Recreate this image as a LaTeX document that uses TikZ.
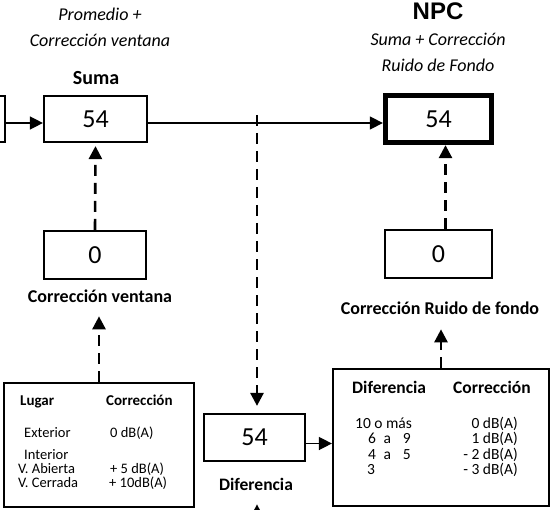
\documentclass[tikz,border=0pt]{standalone}
\usepackage{fontspec}
\setmainfont{Carlito}
\newfontfamily\npcfont{Liberation Sans}
\usetikzlibrary{arrows.meta}
\begin{document}
\begin{tikzpicture}[x=1pt,y=-1pt,
    box/.style={draw, line width=2.2pt, inner sep=0pt, font=\fontsize{26}{30}\selectfont},
    lbl/.style={inner sep=0pt, anchor=base, font=\fontsize{18}{20}\selectfont\bfseries},
    note/.style={inner sep=0pt, anchor=base, font=\fontsize{18}{20}\selectfont\itshape},
    cell/.style={inner sep=0pt, anchor=base west, font=\fontsize{14.5}{15}\selectfont},
    row/.style={inner sep=0pt, anchor=base west, font=\fontsize{15.5}{16}\selectfont},
    tip/.style={-{Triangle[length=13pt,width=13pt]}},
    dashline/.style={tip, line width=2.6pt, dash pattern=on 11pt off 7pt},
    solidline/.style={tip, line width=1.4pt}]
      \useasboundingbox (0,0) rectangle (553,510);
      \clip (0,0) rectangle (553,510);

      % titulos
      \node[note] (prom) at (100,21) {Promedio +};
      \node[note] (promb) at (100,47) {Corrección ventana};
      \node[inner sep=0pt, anchor=base, font=\fontsize{24}{26}\selectfont\npcfont\bfseries] (npct) at (438,20) {NPC};
      \node[note] (npca) at (438,46) {Suma + Corrección};
      \node[note] (npcb) at (438,72) {Ruido de Fondo};
      \node[lbl, font=\fontsize{20}{22}\selectfont\bfseries] (sumalbl) at (96,85) {Suma};

      % cajas
      \node[box, minimum width=90pt, minimum height=46pt] (prev) at (-40,119) {};
      \node[box, minimum width=103pt, minimum height=46pt] (suma) at (95.5,119) {54};
      \node[box, line width=4.8pt, minimum width=106.5pt, minimum height=47.5pt] (npc) at (438.5,119) {54};
      \node[box, minimum width=102pt, minimum height=48pt] (vent) at (95,255) {0};
      \node[box, minimum width=107pt, minimum height=48pt] (ruido) at (438.5,254) {0};
      \node[box, minimum width=101pt, minimum height=47pt] (dif) at (254.5,437.5) {54};
      \node[box, minimum width=190pt, minimum height=124pt] (lugar) at (99,445) {};
      \node[box, minimum width=216pt, minimum height=137pt] (diftab) at (441,437.5) {};

      \node[lbl] (ventlbl) at (100,302) {Corrección ventana};
      \node[lbl] (ruidolbl) at (440,314) {Corrección Ruido de fondo};
      \node[lbl, font=\fontsize{17.5}{19}\selectfont\bfseries] (diflbl) at (256,490) {Diferencia};

      % tabla ventana
      \node[cell, font=\fontsize{15}{16}\selectfont\bfseries] (lug) at (20,405) {Lugar};
      \node[cell, font=\fontsize{15}{16}\selectfont\bfseries] (corr) at (106,405) {Corrección};
      \node[cell] (ext) at (24,437) {Exterior};
      \node[cell] (extv) at (110,437) {0 dB(A)};
      \node[cell] (inte) at (24,459) {Interior};
      \node[cell] (abi) at (18,473) {V. Abierta};
      \node[cell] (abiv) at (110,473) {+ 5 dB(A)};
      \node[cell] (cer) at (18,487.5) {V. Cerrada};
      \node[cell] (cerv) at (109,487.5) {+ 10dB(A)};

      % tabla ruido de fondo
      \node[row, font=\fontsize{17.5}{19}\selectfont\bfseries] (dift) at (352,393) {Diferencia};
      \node[row, font=\fontsize{17.5}{19}\selectfont\bfseries] (corrt) at (453,393) {Corrección};
      \node[row] (r1) at (355,428) {10 o más};
      \node[row] (r2) at (368,443.5) {6\hspace*{7.5pt}a\hspace*{12pt}9};
      \node[row] (r3) at (368,459) {4\hspace*{7.5pt}a\hspace*{12pt}5};
      \node[row] (r4) at (367,474) {3};
      \node[row, anchor=base east] (v1) at (518,428) {0 dB(A)};
      \node[row, anchor=base east] (v2) at (518,443.5) {1 dB(A)};
      \node[row, anchor=base east] (v3) at (518,459) {- 2 dB(A)};
      \node[row, anchor=base east] (v4) at (518,474) {- 3 dB(A)};

      % conexiones
      \coordinate (split) at (257,115);
      \coordinate (below) at (257,540);
      \draw[solidline] ([yshift=-4pt]prev.east) -- ([yshift=-4pt]suma.west);
      \draw[solidline] ([yshift=-4pt]suma.east) -- ([yshift=-4pt]npc.west);
      \draw[dashline, shorten >=7pt] (split) -- (split |- dif.north);
      \draw[dashline, shorten >=3pt] (vent.north) -- (suma.south);
      \draw[dashline] ([xshift=7pt]ruido.north) -- ([xshift=7pt]npc.south);
      \draw[dashline, shorten >=14pt] (lugar.north) -- (lugar.north |- ventlbl.south);
      \draw[dashline, shorten >=15pt] (diftab.north) -- (diftab.north |- ruidolbl.south);
      \draw[solidline] ([yshift=-6pt]dif.east) -- ([yshift=-6pt]diftab.west);
      \draw[solidline, shorten >=14pt] (below) -- (below |- diflbl.south);

    \end{tikzpicture}
\end{document}
